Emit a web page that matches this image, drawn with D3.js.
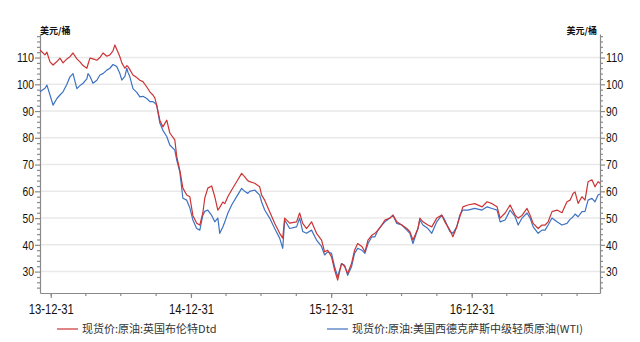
<!DOCTYPE html>
<html>
<head>
<meta charset="utf-8">
<script src="https://cdn.jsdelivr.net/npm/d3@7/dist/d3.min.js"></script>
<style>
  body { margin: 0; background: #fff; }
  svg { display: block; }
</style>
</head>
<body>
<svg id="chart" width="640" height="342"></svg>
<script>
// Spot crude prices, USD per barrel
const dates = [
  "2013-12-03","2013-12-16","2013-12-21","2013-12-29","2014-01-06","2014-01-16","2014-01-24","2014-02-01",
  "2014-02-11","2014-02-19","2014-02-27","2014-03-09","2014-03-17","2014-03-25","2014-04-04","2014-04-07",
  "2014-04-12","2014-04-20","2014-04-30","2014-05-08","2014-05-16","2014-05-26","2014-06-03","2014-06-11",
  "2014-06-16","2014-06-21","2014-06-29","2014-07-04","2014-07-12","2014-07-17","2014-07-20","2014-07-25",
  "2014-08-02","2014-08-12","2014-08-20","2014-08-28","2014-09-07","2014-09-15","2014-09-23","2014-09-28",
  "2014-10-03","2014-10-11","2014-10-19","2014-10-29","2014-11-06","2014-11-19","2014-11-24","2014-12-02",
  "2014-12-10","2014-12-20","2014-12-28","2015-01-05","2015-01-15","2015-01-23","2015-01-31","2015-02-05",
  "2015-02-13","2015-02-23","2015-03-03","2015-03-11","2015-03-16","2015-03-24","2015-03-29","2015-04-06",
  "2015-04-16","2015-04-29","2015-05-12","2015-05-20","2015-05-28","2015-06-02","2015-06-15","2015-06-28",
  "2015-07-03","2015-07-11","2015-07-24","2015-08-06","2015-08-19","2015-08-27","2015-09-01","2015-09-14",
  "2015-10-02","2015-10-10","2015-10-18","2015-10-28","2015-11-10","2015-11-23","2015-12-06","2015-12-14",
  "2015-12-22","2016-01-01","2016-01-09","2016-01-17","2016-01-27","2016-02-04","2016-02-12","2016-02-22",
  "2016-03-01","2016-03-09","2016-03-20","2016-03-28","2016-04-05","2016-04-15","2016-04-23","2016-05-01",
  "2016-05-11","2016-05-19","2016-06-01","2016-06-09","2016-06-19","2016-07-02","2016-07-15","2016-07-23",
  "2016-07-31","2016-08-13","2016-08-18","2016-08-26","2016-09-08","2016-09-18","2016-10-01","2016-10-14",
  "2016-10-22","2016-11-04","2016-11-12","2016-11-22","2016-11-30","2016-12-08","2016-12-21","2017-01-08",
  "2017-01-27","2017-02-09","2017-02-22","2017-03-07","2017-03-15","2017-03-28","2017-04-10","2017-04-23",
  "2017-05-01","2017-05-11","2017-05-24","2017-06-01","2017-06-09","2017-06-22","2017-07-02","2017-07-10",
  "2017-07-18","2017-07-28","2017-08-10","2017-08-23","2017-09-05","2017-09-13","2017-09-21","2017-09-26",
  "2017-10-04","2017-10-14","2017-10-22","2017-10-30","2017-11-09","2017-11-17","2017-11-25","2017-11-30"
];

const brentDtd = [
  112.8,111.0,112.0,108.4,107.2,108.5,109.8,108.0,
  109.5,110.3,111.7,109.5,108.4,107.0,106.0,107.5,
  109.8,109.5,109.0,110.0,111.7,110.5,111.0,112.5,
  114.7,113.0,110.3,108.0,106.0,107.0,106.6,105.5,
  103.5,102.5,101.5,101.0,99.0,97.2,96.0,94.9,
  92.0,86.6,84.1,86.6,81.8,79.2,73.0,67.9,
  61.2,58.6,58.0,51.0,48.1,47.4,51.9,57.5,
  61.2,62.0,58.0,53.0,54.0,56.0,55.4,58.0,
  60.5,63.6,66.7,65.4,64.0,63.6,63.0,61.7,
  58.6,56.7,52.4,48.1,44.3,42.5,50.0,48.1,
  48.6,51.9,48.0,46.1,48.6,44.3,41.8,37.4,
  38.0,35.5,30.6,26.8,33.0,32.0,29.3,33.0,
  38.0,40.5,39.4,37.4,41.8,43.6,44.3,45.5,
  47.4,49.3,50.0,51.1,48.6,47.4,46.1,44.9,
  41.8,46.1,50.0,48.6,47.4,46.7,50.0,51.1,
  48.6,45.5,43.0,46.7,50.5,54.2,54.9,55.4,
  54.2,56.1,55.4,54.2,50.0,51.9,54.9,51.1,
  50.0,51.0,53.6,51.1,48.0,46.1,47.4,47.4,
  48.6,52.4,53.0,52.0,56.1,56.7,59.2,59.8,
  55.5,58.0,56.7,63.6,64.3,61.7,63.6,63.0
];

const wti = [
  97.2,98.5,99.7,96.0,92.2,94.7,96.0,97.2,
  100.0,102.8,104.0,98.4,99.5,100.4,102.0,104.0,
  103.0,100.4,101.5,103.5,104.0,105.3,106.0,107.4,
  107.0,106.6,104.0,101.6,103.0,106.0,104.5,102.8,
  98.4,97.0,95.3,95.5,94.7,93.5,93.5,93.0,
  92.2,85.5,82.8,80.5,77.3,75.4,71.7,67.3,
  57.4,56.7,53.9,49.3,46.1,45.5,51.1,52.5,
  53.0,51.0,48.6,50.0,44.3,46.7,48.5,51.8,
  54.9,58.0,61.1,60.0,59.2,60.0,60.5,58.6,
  56.0,53.0,50.0,46.1,42.5,38.7,49.3,46.1,
  46.7,50.0,45.0,44.3,45.5,41.8,39.4,36.2,
  37.4,36.8,31.8,28.1,33.0,32.4,28.6,31.8,
  36.8,38.7,38.0,36.8,40.5,43.0,43.0,45.5,
  47.4,48.6,50.0,51.1,48.0,47.4,45.5,44.3,
  40.5,46.1,49.3,47.4,46.1,44.3,48.6,51.1,
  49.3,45.0,44.3,46.7,51.1,53.0,53.0,53.6,
  53.0,54.2,53.6,53.0,48.6,49.3,53.0,50.5,
  47.4,50.0,51.9,50.0,46.7,44.3,45.5,45.5,
  47.4,50.0,48.6,47.4,48.0,49.5,50.5,51.5,
  50.5,52.4,52.5,56.7,57.4,56.1,58.6,59.0
];

const seriesNames = ["现货价:原油:英国布伦特Dtd", "现货价:原油:美国西德克萨斯中级轻质原油(WTI)"];
const seriesColors = ["#cc3434", "#3d72c2"];
const xDomain = ["2013-12-03", "2017-11-30"];
const xMajorTicks = ["2013-12-31", "2014-12-31", "2015-12-31", "2016-12-31"];
const xTickLabels = ["13-12-31", "14-12-31", "15-12-31", "16-12-31"];
const yMajorTicks = [30, 40, 50, 60, 70, 80, 90, 100, 110];
const yDomain = [22, 118.8];
const unitLabel = "美元/桶";

const parse = d3.utcParse("%Y-%m-%d");
const svg = d3.select("#chart");
const M = { left: 40, right: 600, top: 34, bottom: 293 };

const x = d3.scaleUtc().domain(xDomain.map(parse)).range([M.left, M.right]);
const y = d3.scaleLinear().domain(yDomain).range([M.bottom, M.top]);

const axisColor = "#8a8a8a";
const labelFont = "'Liberation Sans', Arial, sans-serif";

// horizontal grid at major y ticks
svg.append("g").selectAll("line").data(yMajorTicks).join("line")
  .attr("x1", M.left).attr("x2", M.right)
  .attr("y1", d => y(d)).attr("y2", d => y(d))
  .attr("stroke", "#e9e9e9").attr("stroke-width", 1.5);

// quarter-end minor ticks on the time axis
const quarterEnds = d3.utcMonth.every(3)
  .range(parse("2014-01-01"), parse("2018-01-01"))
  .map(d => d3.utcDay.offset(d, -1))
  .filter(d => d >= x.domain()[0] && d <= x.domain()[1]);
const yMinor = d3.range(24, 119, 2).filter(v => v % 10 !== 0);

function styleAxis(g) {
  g.select(".domain").attr("stroke", axisColor).attr("stroke-width", 1.2);
  g.selectAll(".tick line").attr("stroke", axisColor).attr("stroke-width", 1.2);
  g.selectAll(".tick text")
    .attr("fill", "#111")
    .style("font-family", labelFont);
}

// condensed look for the numeric labels
function narrow(sel, perChar) {
  sel.each(function () {
    const t = d3.select(this);
    const s = t.text();
    if (!s) return;
    const w = Array.from(s).reduce((a, c) => a + (c === "-" ? perChar * 0.62 : perChar), 0);
    t.attr("textLength", w).attr("lengthAdjust", "spacingAndGlyphs");
  });
}

// bottom axis: minor quarters then labelled year ends
svg.append("g").attr("transform", `translate(0,${M.bottom})`)
  .call(d3.axisBottom(x).tickValues(quarterEnds).tickSize(3).tickSizeOuter(0).tickFormat(""))
  .call(styleAxis);
svg.append("g").attr("transform", `translate(0,${M.bottom})`)
  .call(d3.axisBottom(x).tickValues(xMajorTicks.map(parse)).tickSize(5).tickSizeOuter(0)
    .tickFormat((d, i) => xTickLabels[i]))
  .call(styleAxis)
  .call(g => g.select(".domain").remove())
  .call(g => g.selectAll(".tick text").attr("dy", "1.02em").attr("y", 7)
    .style("font-size", "14px").call(narrow, 6.2));

// left and right value axes
[["left", d3.axisLeft, M.left], ["right", d3.axisRight, M.right]].forEach(([side, axisFn, pos]) => {
  svg.append("g").attr("transform", `translate(${pos},0)`)
    .call(axisFn(y).tickValues(yMinor).tickSize(3).tickSizeOuter(0).tickFormat(""))
    .call(styleAxis);
  svg.append("g").attr("transform", `translate(${pos},0)`)
    .call(axisFn(y).tickValues(yMajorTicks).tickSize(5).tickSizeOuter(0).tickFormat(d3.format("d")))
    .call(styleAxis)
    .call(g => g.select(".domain").remove())
    .call(g => g.selectAll(".tick text")
      .attr("x", side === "left" ? -6 : 6)
      .style("font-size", "13px").call(narrow, 5.7));
});

// unit captions
svg.append("text").attr("x", M.left).attr("y", 34)
  .attr("text-anchor", "start").text(unitLabel)
  .style("font-family", "'Noto Sans CJK SC', sans-serif").style("font-size", "9px").style("font-weight", "bold")
  .attr("fill", "#111");
svg.append("text").attr("x", M.right - 3).attr("y", 34)
  .attr("text-anchor", "end").text(unitLabel)
  .style("font-family", "'Noto Sans CJK SC', sans-serif").style("font-size", "9px").style("font-weight", "bold")
  .attr("fill", "#111");

// price lines
const parsedDates = dates.map(parse);
const line = d3.line().x(d => x(d[0])).y(d => y(d[1]));
[wti, brentDtd].forEach((vals, k) => {
  const idx = k === 0 ? 1 : 0;
  svg.append("path")
    .datum(parsedDates.map((d, i) => [d, vals[i]]))
    .attr("d", line)
    .attr("fill", "none")
    .attr("stroke", seriesColors[idx])
    .attr("stroke-width", 1.2)
    .attr("stroke-linejoin", "round");
});

// legend
const legendItems = [{ x: 57, i: 0 }, { x: 327, i: 1 }];
const lg = svg.append("g");
legendItems.forEach(({ x: lx, i }) => {
  lg.append("line").attr("x1", lx).attr("x2", lx + 21).attr("y1", 329).attr("y2", 329)
    .attr("stroke", seriesColors[i]).attr("stroke-width", 1.2);
  lg.append("text").attr("x", lx + 25).attr("y", 333).text(seriesNames[i])
    .style("font-family", "'Noto Sans CJK SC', sans-serif").style("font-size", "11px")
    .attr("fill", "#333");
});
</script>
</body>
</html>
